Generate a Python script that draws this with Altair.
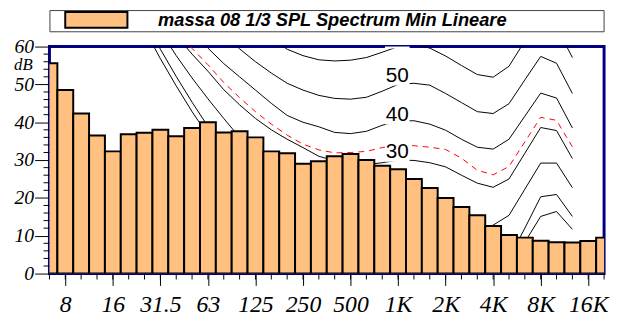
import json
import altair as alt
import pandas as pd

# ---------------- data ----------------
bands = ["6.3", "8", "10", "12.5", "16", "20", "25", "31.5", "40", "50", "63", "80",
         "100", "125", "160", "200", "250", "315", "400", "500", "630", "800", "1K",
         "1.25K", "1.6K", "2K", "2.5K", "3.15K", "4K", "5K", "6.3K", "8K", "10K",
         "12.5K", "16K", "20K"]
spl = [55.6, 48.5, 42.3, 36.5, 32.3, 36.8, 37.2, 38.0, 36.3, 38.5, 40.0, 37.3,
       37.6, 36.0, 32.3, 31.8, 29.0, 29.7, 31.0, 31.6, 30.0, 28.5, 27.6,
       25.0, 22.6, 20.0, 17.6, 15.4, 12.6, 10.2, 9.5, 8.7, 8.3,
       8.2, 8.6, 9.5]
major_ticks = [1, 4, 7, 10, 13, 16, 19, 22, 25, 28, 31, 34]
y_major = [0, 10, 20, 30, 40, 50, 60]
y_minor = [2, 4, 6, 8, 12, 14, 16, 18, 22, 24, 26, 28, 32, 34, 36, 38, 42, 44, 46, 48, 52, 54, 56, 58]

# equal-loudness style contours: first band index, then level (dB) per band
phon0_start = 6
phon0 = [64.6, 56.8, 49.6, 42.8, 36.6, 31.0, 26.5, 22.0, 18.0, 14.5, 11.5, 8.6, 6.2, 4.4,
         3.0, 2.2, 2.4, 3.5, 1.7, -1.3, -4.2, -6.0, -5.4, -1.5, 8.3, 15.1, 16.4, 11.7]
phon10_start = 6
phon10 = [67.1, 59.3, 52.1, 45.3, 38.9, 33.5, 29.5, 26.0, 23.0, 20.5, 18.5, 17.0, 15.5, 14.0,
          13.0, 12.0, 11.0, 11.0, 10.5, 7.5, 4.5, 2.5, 2.0, 4.0, 12.0, 20.3, 20.9, 15.1]
phon20_start = 7
phon20 = [64.1, 57.6, 51.7, 46.2, 41.0, 36.0, 32.5, 29.5, 27.5, 25.5, 24.0, 23.0, 22.0,
          21.5, 21.0, 20.5, 20.5, 19.0, 16.5, 14.0, 11.5, 12.8, 15.4, 22.3, 29.2, 29.2, 22.7]
phon30_start = 8
phon30 = [62.9, 58.0, 53.5, 48.6, 44.6, 41.0, 38.0, 35.5, 33.3, 31.0, 29.8, 29.0, 28.8,
          29.3, 30.0, 29.9, 29.3, 28.2, 26.0, 23.9, 22.8, 25.0, 31.8, 38.6, 37.8, 30.4]
phon40_start = 9
phon40 = [64.0, 59.6, 55.5, 52.0, 48.5, 45.0, 41.8, 40.0, 38.8, 37.3, 37.0, 37.6, 39.2,
          40.3, 40.4, 39.5, 37.9, 35.5, 33.4, 32.9, 35.5, 41.6, 47.7, 46.4, 38.5]
phon50_start = 11
phon50 = [63.2, 59.4, 56.0, 53.0, 50.3, 48.5, 47.1, 46.3, 46.1, 46.6, 48.2, 50.0, 50.3,
          49.8, 47.6, 45.2, 42.8, 42.3, 44.9, 51.2, 57.4, 55.6, 47.6]
phon60_start = 14
phon60 = [62.0, 59.3, 57.6, 56.5, 56.2, 56.4, 57.1, 58.5, 60.0, 60.5, 59.6, 57.5, 55.0,
          52.6, 51.9, 54.8, 61.5, 67.5, 65.2, 57.1]
red_start = 8
red = [64.3, 59.5, 55.2, 50.5, 46.5, 42.8, 39.5, 36.6, 34.2, 32.7, 31.9, 32.0, 32.3,
       33.3, 33.9, 33.8, 33.4, 32.8, 30.5, 27.3, 26.1, 28.3, 34.8, 41.3, 40.5, 33.5]

label_text = ["50", "40", "30"]
label_db = [52.2, 41.9, 32.0]
gap_db = [62.0, 52.2, 41.9, 32.0]
label_band = 21.95

legend_label = "massa 08 1/3 SPL Spectrum Min Lineare"
unit_label = ["dB"]
unit_db = [55.0]

# ---------------- tables ----------------
bars_df = pd.DataFrame({"idx": list(range(len(bands))), "band": bands, "spl": spl})

rows = []
for name, start, vals in [("0", phon0_start, phon0), ("10", phon10_start, phon10),
                          ("20", phon20_start, phon20), ("30", phon30_start, phon30),
                          ("40", phon40_start, phon40), ("50", phon50_start, phon50),
                          ("60", phon60_start, phon60)]:
    for k, v in enumerate(vals):
        rows.append({"curve": name, "idx": start + k, "db": v})
black_df = pd.DataFrame(rows)
red_df = pd.DataFrame({"idx": [red_start + k for k in range(len(red))], "db": red})
lab_df = pd.DataFrame({"idx": [label_band] * len(label_text), "db": label_db, "t": label_text})
gap_df = pd.DataFrame({"idx": [label_band] * len(gap_db), "db": gap_db})
unit_df = pd.DataFrame({"t": unit_label, "db": unit_db})
one = pd.DataFrame({"t": [legend_label]})
ytick_df = pd.DataFrame({"v": y_minor})

xs = alt.Scale(domain=[0, 35], nice=False, zero=False)
ys = alt.Scale(domain=[0, 60], nice=False, zero=False)

serif = "Liberation Serif"
sans = "Liberation Sans"

x_axis = alt.Axis(
    values=major_ticks, labelExpr=json.dumps(bands) + "[datum.value]",
    tickSize=12, tickColor="black", tickWidth=1, domain=False, grid=False,
    labelFont=serif, labelFontStyle="italic", labelFontSize=24, labelColor="black",
    labelPadding=7, labelFlush=False, labelOverlap=False, title=None)
y_axis = alt.Axis(
    values=y_major, tickSize=15, tickColor="black", tickWidth=1, domain=False, grid=False,
    labelFont=serif, labelFontStyle="italic", labelFontSize=20, labelColor="black",
    labelPadding=1, labelFlush=False, labelOverlap=False, title=None)


def X(field):
    return alt.X(field, scale=xs, axis=x_axis, title=None)


def Y(field):
    return alt.Y(field, scale=ys, axis=y_axis, title=None)


lines_black = alt.Chart(black_df).mark_line(color="black", strokeWidth=1, clip=True).encode(
    x=X("idx:Q"), y=Y("db:Q"), detail="curve:N", order="idx:Q",
)
line_red = alt.Chart(red_df).mark_line(color="#FF0000", strokeWidth=1, strokeDash=[6, 5], clip=True).encode(
    x=X("idx:Q"), y=Y("db:Q"), order="idx:Q",
)

bars = alt.Chart(bars_df).transform_calculate(
    lo="datum.idx - 0.5", hi="datum.idx + 0.5", base="0"
).mark_rect(fill="#FFC080", stroke="black", strokeWidth=2, clip=True).encode(
    x=X("lo:Q"), x2="hi:Q", y=Y("spl:Q"), y2="base:Q",
)

gaps = alt.Chart(gap_df).mark_point(
    shape="M-1,-0.76L1,-0.76L1,0.76L-1,0.76Z", size=625, filled=True,
    color="white", opacity=1, strokeWidth=0, clip=True
).encode(x=X("idx:Q"), y=Y("db:Q"))

labels = alt.Chart(lab_df).mark_text(font=sans, fontSize=21, color="black", align="center",
                                     baseline="middle", clip=True).encode(
    x=X("idx:Q"), y=Y("db:Q"), text="t:N",
)

minor_x = alt.Chart(bars_df).mark_rule(color="black", strokeWidth=1).encode(
    x=X("idx:Q"), y=alt.value(230), y2=alt.value(236),
)
minor_y = alt.Chart(ytick_df).mark_rule(color="black", strokeWidth=1).encode(
    y=Y("v:Q"), x=alt.value(-6), x2=alt.value(0),
)

unit = alt.Chart(unit_df).mark_text(font=serif, fontStyle="italic", fontSize=17, color="black",
                                    align="right", baseline="middle").encode(
    y=Y("db:Q"), x=alt.value(-17), text="t:N",
)

legend_frame = alt.Chart(one).mark_rect(fill="white", stroke="#404040", strokeWidth=1).encode(
    x=alt.value(0.5), x2=alt.value(562), y=alt.value(-36.5), y2=alt.value(-15))
legend_swatch = alt.Chart(one).mark_rect(fill="#FFC080", stroke="black", strokeWidth=2).encode(
    x=alt.value(16), x2=alt.value(79), y=alt.value(-35), y2=alt.value(-19))
legend_text = alt.Chart(one).mark_text(font=sans, fontSize=18.5, fontWeight="bold", fontStyle="italic",
                                       color="black", align="left", baseline="middle").encode(
    x=alt.value(110), y=alt.value(-27), text="t:N")

chart = alt.layer(
    lines_black, line_red, bars, gaps, labels, minor_x, minor_y, unit,
    legend_frame, legend_swatch, legend_text
).properties(
    width=562, height=230,
    autosize=alt.AutoSizeParams(type="none"),
    padding={"left": 42, "top": 37, "right": 6, "bottom": 47},
    background="white",
).configure_view(stroke="#000080", strokeWidth=3)

chart.save("out.html", embed_options={"renderer": "svg", "actions": False})
